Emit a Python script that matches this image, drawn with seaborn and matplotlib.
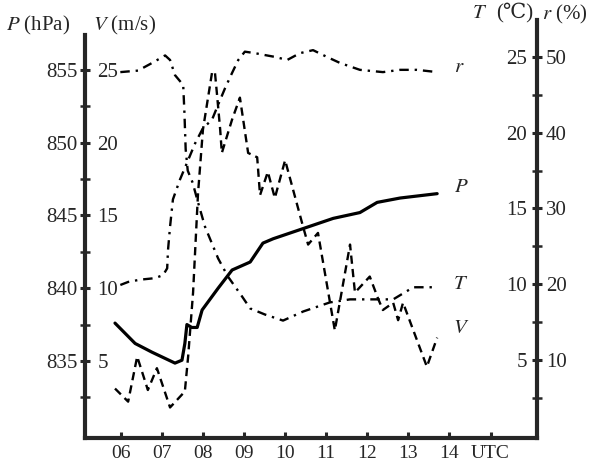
import numpy as np
import pandas as pd
import matplotlib
matplotlib.use("Agg")
import matplotlib.pyplot as plt
import seaborn as sns

# time in decimal hours UTC
p_time = [5.86, 6.35, 6.76, 7.32, 7.49, 7.56, 7.61, 7.73, 7.86, 7.98, 8.37, 8.71,
          9.15, 9.46, 9.71, 10.44, 11.17, 11.82, 12.24, 12.80, 13.70]
p_vals = [837.6, 836.2, 835.6, 834.85, 835.05, 836.2, 837.5, 837.3, 837.3, 838.5,
          840.0, 841.25, 841.8, 843.1, 843.4, 844.1, 844.8, 845.2, 845.9, 846.2, 846.5]

v_time = [5.86, 6.18, 6.40, 6.66, 6.88, 7.20, 7.56, 7.64, 7.76, 7.88, 8.00, 8.22,
          8.29, 8.34, 8.42, 8.46, 8.71, 8.90, 9.10, 9.32, 9.39, 9.58, 9.75, 10.0,
          10.44, 10.56, 10.80, 11.21, 11.58, 11.70, 12.06, 12.26, 12.38, 12.63,
          12.75, 12.87, 13.45, 13.70]
v_vals = [3.1, 2.2, 5.3, 3.0, 4.5, 1.8, 2.9, 5.3, 9.7, 16.5, 20.9, 24.8,
          24.9, 23.4, 20.9, 19.3, 21.6, 23.1, 19.3, 19.0, 16.4, 18.0, 16.2, 18.8,
          14.2, 13.0, 13.8, 7.1, 13.0, 9.7, 10.8, 9.3, 8.5, 9.0,
          7.8, 9.0, 4.6, 6.6]

t_time = [5.99, 6.42, 6.76, 7.08, 7.20, 7.32, 7.52, 7.55, 7.58, 7.63, 7.75, 7.86,
          8.05, 8.37, 8.61, 8.95, 9.15, 9.51, 9.95, 10.44, 11.09, 11.58, 12.24,
          12.63, 13.12, 13.70]
t_vals = [24.0, 24.1, 24.6, 25.1, 24.8, 23.8, 23.15, 21.3, 18.9, 17.5, 16.7, 15.6,
          13.8, 11.7, 10.5, 9.2, 8.4, 8.0, 7.6, 8.2, 8.8, 9.0, 9.0,
          9.0, 9.8, 9.8]

r_time = [5.99, 6.18, 6.47, 6.83, 7.03, 7.13, 7.15, 7.20, 7.27, 7.44, 7.61, 7.81,
          8.00, 8.22, 8.37, 8.54, 8.71, 8.86, 9.02, 9.27, 9.46, 9.76, 10.05, 10.36,
          10.68, 11.02, 11.34, 11.82, 12.38, 12.80, 13.21, 13.70]
r_vals = [19.9, 20.3, 20.6, 20.8, 21.2, 22.1, 24.5, 27.6, 31.2, 33.8, 36.0, 38.6,
          40.6, 41.7, 43.7, 45.9, 47.9, 49.6, 50.7, 50.5, 50.3, 50.0, 49.6, 50.5,
          50.9, 50.0, 49.2, 48.3, 48.0, 48.3, 48.3, 48.0]

x_ticks = [6, 7, 8, 9, 10, 11, 12, 13, 14, 15]
x_labels = ["06", "07", "08", "09", "10", "11", "12", "13", "14", "UTC"]

sns.set_style("ticks")
plt.rcParams['font.family'] = ['Liberation Serif', 'DejaVu Serif']
plt.rcParams['mathtext.fontset'] = 'stix'

fig = plt.figure(figsize=(6.12, 4.67), dpi=100)
ax = fig.add_axes([85 / 612, 29 / 467, 452 / 612, 418 / 467])

P_lo, P_hi = 829.7, 858.44
T_lo, T_hi = -0.15, 27.44
X_lo, X_hi = 5.13, 16.13

axV = ax.twinx()
axT = ax.twinx()
axR = ax.twinx()

for a in (ax, axV, axT, axR):
    a.set_xlim(X_lo, X_hi)
    for s in a.spines.values():
        s.set_visible(False)
    a.patch.set_visible(False)

ax.set_ylim(P_lo, P_hi)
axV.set_ylim(P_lo - 830, P_hi - 830)
axT.set_ylim(T_lo, T_hi)
axR.set_ylim(2 * T_lo, 2 * T_hi)

lw_axis = 3.0
fs = 15
fsx = 14

# P axis (left spine, labels outside)
ax.spines['left'].set_visible(True)
ax.spines['left'].set_linewidth(lw_axis)
ax.spines['left'].set_bounds(P_lo, 857.4)
ax.spines['bottom'].set_visible(True)
ax.spines['bottom'].set_linewidth(lw_axis)
ax.set_yticks([835, 840, 845, 850, 855])
ax.set_yticks([832.5, 837.5, 842.5, 847.5, 852.5], minor=True)
ax.tick_params(axis='y', which='major', direction='inout', length=7, width=2.2,
               labelsize=fs, pad=2)
ax.tick_params(axis='y', which='minor', direction='inout', length=7, width=1.8)
ax.set_xticks(x_ticks)
ax.set_xticklabels(x_labels)
ax.tick_params(axis='x', direction='in', length=4, width=2.2, labelsize=fsx, pad=5)

# V axis labels just inside left spine
axV.spines['right'].set_position(('axes', 0))
axV.set_yticks([5, 10, 15, 20, 25])
axV.tick_params(axis='y', length=0, labelsize=fs, pad=9)

# T axis labels just inside right spine
axT.yaxis.tick_left()
axT.spines['left'].set_position(('axes', 1))
axT.set_yticks([5, 10, 15, 20, 25])
axT.tick_params(axis='y', length=0, labelsize=fs, pad=7)

# r axis (right spine, labels outside)
axR.spines['right'].set_visible(True)
axR.spines['right'].set_linewidth(lw_axis)
axR.set_yticks([10, 20, 30, 40, 50])
axR.set_yticks([5, 15, 25, 35, 45], minor=True)
axR.tick_params(axis='y', which='major', direction='inout', length=7, width=2.2,
                labelsize=fs, pad=3)
axR.tick_params(axis='y', which='minor', direction='inout', length=7, width=1.8)

for a in (axV, axT, axR):
    a.tick_params(axis='x', bottom=False, labelbottom=False, top=False, labeltop=False)

df_p = pd.DataFrame({"t": p_time, "v": p_vals})
df_v = pd.DataFrame({"t": v_time, "v": v_vals})
df_t = pd.DataFrame({"t": t_time, "v": t_vals})
df_r = pd.DataFrame({"t": r_time, "v": r_vals})

sns.lineplot(data=df_p, x="t", y="v", ax=ax, color="black", lw=2.3,
             estimator=None, sort=False)
sns.lineplot(data=df_v, x="t", y="v", ax=axV, color="black", lw=1.7,
             linestyle=(0, (3.5, 2.2)), estimator=None, sort=False)
sns.lineplot(data=df_t, x="t", y="v", ax=axT, color="black", lw=1.7,
             linestyle=(0, (4, 2.5, 1, 2.5)), estimator=None, sort=False)
sns.lineplot(data=df_r, x="t", y="v", ax=axR, color="black", lw=1.7,
             linestyle=(0, (4, 2.5, 1, 2.5)), estimator=None, sort=False)

for a in (ax, axV, axT, axR):
    a.set_xlabel("")
    a.set_ylabel("")
ax.set_xlim(X_lo, X_hi)

# curve names
axR.text(14.12, 48.6, "$r$", fontsize=fs, va='center', ha='left')
ax.text(14.12, 846.9, "$P$", fontsize=fs, va='center', ha='left')
axT.text(14.08, 9.95, "$T$", fontsize=fs, va='center', ha='left')
axV.text(14.08, 7.2, "$V$", fontsize=fs, va='center', ha='left')

# axis titles
fig.text(6 / 612, 1 - 25 / 467, "$P$ (hPa)", fontsize=fs, va='center', ha='left')
fig.text(93 / 612, 1 - 25 / 467, "$V$ (m/s)", fontsize=fs, va='center', ha='left')
fig.text(472 / 612, 1 - 13 / 467, "$T$", fontsize=fs, va='center', ha='left')
fig.text(533 / 612, 1 - 13 / 467, "(℃)", fontsize=fs, va='center', ha='right')
fig.text(542 / 612, 1 - 14 / 467, "$r$ (%)", fontsize=fs, va='center', ha='left')

fig.savefig("out.png", dpi=100)
